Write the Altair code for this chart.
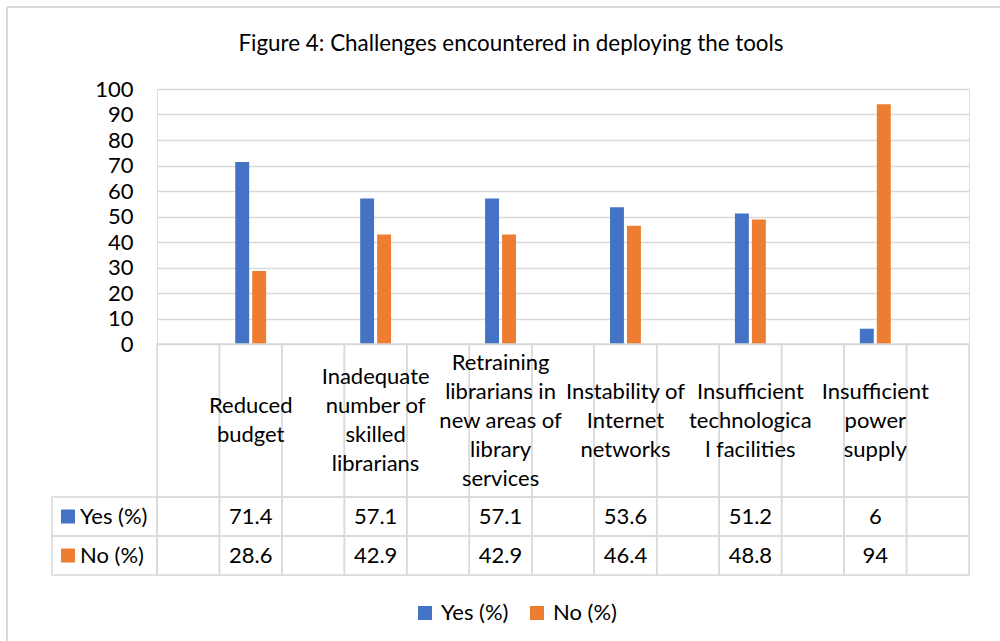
import altair as alt
import pandas as pd

# ---- data ----
categories = [
    "Reduced budget",
    "Inadequate number of skilled librarians",
    "Retraining librarians in new areas of library services",
    "Instability of Internet networks",
    "Insufficient technological facilities",
    "Insufficient power supply",
]
category_lines = [
    ["Reduced", "budget"],
    ["Inadequate", "number of", "skilled", "librarians"],
    ["Retraining", "librarians in", "new areas of", "library", "services"],
    ["Instability of", "Internet", "networks"],
    ["Insufficient", "technologica", "l facilities"],
    ["Insufficient", "power", "supply"],
]
yes_pct = [71.4, 57.1, 57.1, 53.6, 51.2, 6]
no_pct = [28.6, 42.9, 42.9, 46.4, 48.8, 94]
series = ["Yes (%)", "No (%)"]
colors = ["#4472C4", "#ED7D31"]
title_text = "Figure 4: Challenges encountered in deploying the tools"

# Excel sheet had blank columns between the categories
slots = []
for i, c in enumerate(categories):
    slots.append(f"blank{i}")
    slots.append(c)
slots.append("blank_end")

FONT = "Lato"
FS = 22
LH = 29
GRID = "#d9d9d9"
W, H_PLOT = 812, 255
ROW_HEAD = (255, 408)
ROW_YES = (408, 447)
ROW_NO = (447, 486)

bars_df = pd.DataFrame(
    [{"slot": c, "series": series[0], "value": y} for c, y in zip(categories, yes_pct)]
    + [{"slot": c, "series": series[1], "value": n} for c, n in zip(categories, no_pct)]
)
cells_df = pd.DataFrame({"slot": slots})
table_df = pd.DataFrame({
    "slot": categories,
    "label": ["\n".join(l) for l in category_lines],
    "nlines": [len(l) for l in category_lines],
    "yes": [f"{v:g}" for v in yes_pct],
    "no": [f"{v:g}" for v in no_pct],
})
series_df = pd.DataFrame({"series": series})

xscale = alt.Scale(domain=slots, paddingInner=0, paddingOuter=0)
X = alt.X("slot:N", scale=xscale, axis=None)
color = alt.Color(
    "series:N",
    scale=alt.Scale(domain=series, range=colors),
    legend=alt.Legend(
        title=None, orient="none", legendX=257, legendY=513, direction="horizontal",
        symbolType="square", symbolSize=196, symbolStrokeWidth=0, labelFontSize=FS,
        labelFont=FONT, labelColor="#000000", padding=0, columnPadding=17, labelOffset=5,
    ),
)

bars = alt.Chart(bars_df).mark_bar().encode(
    x=X,
    xOffset=alt.XOffset("series:N", scale=alt.Scale(domain=series, paddingInner=0.18, paddingOuter=0.93)),
    y=alt.Y(
        "value:Q",
        scale=alt.Scale(domain=[0, 100], range=[H_PLOT, 0]),
        axis=alt.Axis(
            values=list(range(0, 101, 10)), title=None, domain=False, ticks=False,
            grid=True, gridColor=GRID, gridWidth=1.5, labelFontSize=FS, labelFont=FONT,
            labelColor="#000000", labelPadding=24,
        ),
    ),
    color=color,
)

def row_cells(r):
    return alt.Chart(cells_df).mark_rect(fill=None, stroke=GRID, strokeWidth=1.5).encode(
        x=X, y=alt.value(r[0]), y2=alt.value(r[1])
    )

def left_cell(r):
    return alt.Chart(series_df.iloc[[0]]).mark_rect(fill=None, stroke=GRID, strokeWidth=1.5).encode(
        x=alt.value(-105), x2=alt.value(0), y=alt.value(r[0]), y2=alt.value(r[1])
    )

txt = dict(font=FONT, fontSize=FS, color="#000000", align="center", baseline="middle")

head_mid = (ROW_HEAD[0] + ROW_HEAD[1]) / 2
head_layers = []
for n in sorted(set(table_df["nlines"])):
    head_layers.append(
        alt.Chart(table_df).transform_filter(alt.datum.nlines == n)
        .mark_text(lineBreak="\n", lineHeight=LH, dy=-(n - 1) * LH / 2, **txt)
        .encode(x=X, y=alt.value(head_mid), text="label:N")
    )

yes_text = alt.Chart(table_df).mark_text(**txt).encode(
    x=X, y=alt.value((ROW_YES[0] + ROW_YES[1]) / 2), text="yes:N"
)
no_text = alt.Chart(table_df).mark_text(**txt).encode(
    x=X, y=alt.value((ROW_NO[0] + ROW_NO[1]) / 2), text="no:N"
)

def key(i, r):
    ymid = (r[0] + r[1]) / 2
    sq = alt.Chart(series_df.iloc[[i]]).mark_square(size=196, opacity=1).encode(
        x=alt.value(-89), y=alt.value(ymid), color=alt.Color("series:N", legend=None)
    )
    tx = alt.Chart(series_df.iloc[[i]]).mark_text(**{**txt, "align": "left"}).encode(
        x=alt.value(-77), y=alt.value(ymid), text="series:N"
    )
    return [sq, tx]

frame_top = alt.Chart(series_df.iloc[[0]]).mark_rule(color=GRID, strokeWidth=2).encode(
    x=alt.value(-150), x2=alt.value(900), y=alt.value(-82)
)
frame_left = alt.Chart(series_df.iloc[[0]]).mark_rule(color=GRID, strokeWidth=2).encode(
    x=alt.value(-150), y=alt.value(-82), y2=alt.value(600)
)
title = alt.Chart(series_df.iloc[[0]]).mark_text(
    font=FONT, fontSize=22.4, color="#000000", align="center", baseline="middle"
).encode(x=alt.value(354), y=alt.value(-45), text=alt.value(title_text))

chart = alt.layer(
    frame_top, frame_left, title, bars,
    row_cells(ROW_HEAD), row_cells(ROW_YES), row_cells(ROW_NO),
    left_cell(ROW_YES), left_cell(ROW_NO),
    *head_layers, yes_text, no_text,
    *key(0, ROW_YES), *key(1, ROW_NO),
).properties(
    width=W, height=486,
    autosize=alt.AutoSizeParams(type="none"),
    padding={"left": 157, "top": 89, "right": 31, "bottom": 66},
).configure_view(stroke=None).configure(background="white")

chart.save("out.html", embed_options={"renderer": "svg", "actions": False})
